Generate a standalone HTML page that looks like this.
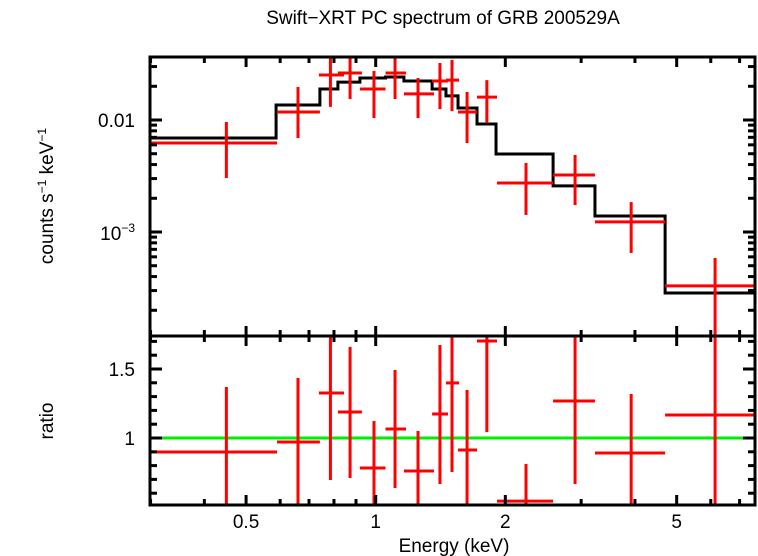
<!DOCTYPE html>
<html><head><meta charset="utf-8"><style>
body{margin:0;background:#fff}
svg{display:block;font-family:"Liberation Sans",sans-serif}
</style></head><body>
<svg id="c" width="758" height="556" viewBox="0 0 758 556">
<defs>
<clipPath id="ct"><rect x="150" y="57" width="605" height="279"/></clipPath>
<clipPath id="cb"><rect x="150" y="336" width="605" height="169"/></clipPath>
</defs>
<text x="443" y="24" font-size="19" text-anchor="middle">Swift−XRT PC spectrum of GRB 200529A</text>
<text transform="translate(53,196) rotate(-90)" font-size="19" text-anchor="middle">counts s<tspan font-size="12" dy="-7">−1</tspan><tspan dy="7"> keV</tspan><tspan font-size="12" dy="-7">−1</tspan></text>
<text transform="translate(53,421) rotate(-90)" font-size="19" text-anchor="middle">ratio</text>
<text x="454" y="552" font-size="19" text-anchor="middle">Energy (keV)</text>
<g id="g"></g>
</svg>
<script>
const xlo=[0.299,0.590,0.738,0.817,0.919,1.054,1.163,1.352,1.456,1.553,1.719,1.913,2.582,3.23,4.70];
const xhi=[0.590,0.742,0.844,0.929,1.054,1.176,1.366,1.472,1.562,1.719,1.913,2.582,3.23,4.70,7.60];
const xc=[0.450,0.66,0.785,0.872,0.991,1.109,1.254,1.41,1.504,1.63,1.812,2.234,2.904,3.92,6.14];
const rate=[6.23e-3,0.01178,0.0252,0.0263,0.0189,0.0263,0.0171,0.0223,0.0227,0.01178,0.0160,2.74e-3,3.23e-3,1.23e-3,3.3e-4];
const rateHi=[9.6e-3,0.0197,0.0365,0.0365,0.0274,0.0365,0.0237,0.0323,0.0344,0.0178,0.0227,4.13e-3,4.87e-3,1.85e-3,5.86e-4];
const rateLo=[3.03e-3,6.9e-3,0.0131,0.0154,0.0104,0.0154,0.0104,0.0125,0.0120,6.23e-3,9.4e-3,1.42e-3,1.74e-3,6.5e-4,1e-4];
const modelEdges=[0.299,0.587,0.742,0.817,0.919,1.054,1.163,1.352,1.456,1.553,1.719,1.903,2.582,3.23,4.70,7.60];
const modelVals=[6.9e-3,0.0136,0.0189,0.0218,0.0237,0.0242,0.0223,0.0189,0.0164,0.0128,9.2e-3,4.97e-3,2.58e-3,1.39e-3,2.85e-4];
const ratio=[0.899,0.971,1.326,1.188,0.783,1.065,0.761,1.174,1.399,0.913,1.703,0.543,1.268,0.891,1.167];
const ratioHi=[1.37,1.435,1.74,1.66,1.123,1.493,1.051,1.674,1.74,1.348,1.74,0.812,1.74,1.319,1.74];
const ratioLo=[0.5,0.5,0.696,0.71,0.5,0.638,0.5,0.667,0.754,0.5,1.043,0.5,0.667,0.5,0.5];
const xTickLabels=["0.5","1","2","5"];
const xTickVals=[0.5,1,2,5];
const ratioTickVals=[1,1.5];
const ratioTickLabels=["1","1.5"];

const NS="http://www.w3.org/2000/svg",G=document.getElementById('g');
const X=e=>375.7+430.6*Math.log10(e);
const YT=v=>120-112*(Math.log10(v)+2);
const YB=r=>438-138*(r-1);
function el(t,a,p){const e=document.createElementNS(NS,t);for(const k in a)e.setAttribute(k,a[k]);(p||G).appendChild(e);return e;}
function ln(x1,y1,x2,y2,c,w,p){return el('line',{x1,y1,x2,y2,stroke:c,'stroke-width':w},p);}
const gt=el('g',{'clip-path':'url(#ct)'});
const gb=el('g',{'clip-path':'url(#cb)'});
let d='';
modelVals.forEach((v,i)=>{const y=YT(v);d+=(i?'L':'M')+X(modelEdges[i])+','+y+'L'+X(modelEdges[i+1])+','+y;});
const mp=el('path',{d,fill:'none',stroke:'#000','stroke-width':3},gt);


const ul=ln(150,YB(1),755,YB(1),'#00ee00',3,gb);


xc.forEach((c,i)=>{
 const g1=el('g',{},gt);
 
 
 ln(X(xlo[i]),YT(rate[i]),X(xhi[i]),YT(rate[i]),'#f00',3,g1);
 ln(X(c),YT(rateHi[i]),X(c),YT(rateLo[i]),'#f00',3,g1);
 const g2=el('g',{},gb);
 
 
 ln(X(xlo[i]),YB(ratio[i]),X(xhi[i]),YB(ratio[i]),'#f00',3,g2);
 ln(X(c),YB(ratioHi[i]),X(c),YB(ratioLo[i]),'#f00',3,g2);
});
[[57,336],[336,505]].forEach(([t,b])=>{const r=el('rect',{x:150,y:t,width:605,height:b-t,fill:'none',stroke:'#000','stroke-width':3});});
const minors=[0.3,0.4,0.6,0.7,0.8,0.9,3,4,6,7];
[[57,336],[336,505]].forEach(([t,b])=>{
 xTickVals.forEach(v=>{ln(X(v),t,X(v),t+10,'#000',3);ln(X(v),b,X(v),b-10,'#000',3);});
 minors.forEach(v=>{ln(X(v),t,X(v),t+6,'#000',3);ln(X(v),b,X(v),b-6,'#000',3);});
});
xTickVals.forEach((v,i)=>{const t=el('text',{x:X(v),y:528,'font-size':19,'text-anchor':'middle'});t.textContent=xTickLabels[i];});
[1e-3,1e-2].forEach(v=>{ln(150,YT(v),162,YT(v),'#000',3);ln(755,YT(v),743,YT(v),'#000',3);});
for(let dec of [1e-4,1e-3,1e-2])for(let m=2;m<=9;m++){const v=m*dec;const y=YT(v);if(y<58||y>335)continue;ln(150,y,157,y,'#000',3);ln(755,y,748,y,'#000',3);}
let t1=el('text',{x:135,y:127,'font-size':19,'text-anchor':'end'});t1.textContent='0.01';
let t2=el('text',{x:135,y:240,'font-size':19,'text-anchor':'end'});t2.innerHTML='10<tspan font-size="12" dy="-8">−3</tspan>';
for(let r=0.6;r<1.75;r+=0.1){const y=YB(r);const maj=ratioTickVals.some(v=>Math.abs(v-r)<1e-6);const L=maj?12:7;ln(150,y,150+L,y,'#000',3);ln(755,y,755-L,y,'#000',3);}
ratioTickVals.forEach((v,i)=>{const t=el('text',{x:135,y:YB(v)+7,'font-size':19,'text-anchor':'end'});t.textContent=ratioTickLabels[i];});
</script>
</body></html>
